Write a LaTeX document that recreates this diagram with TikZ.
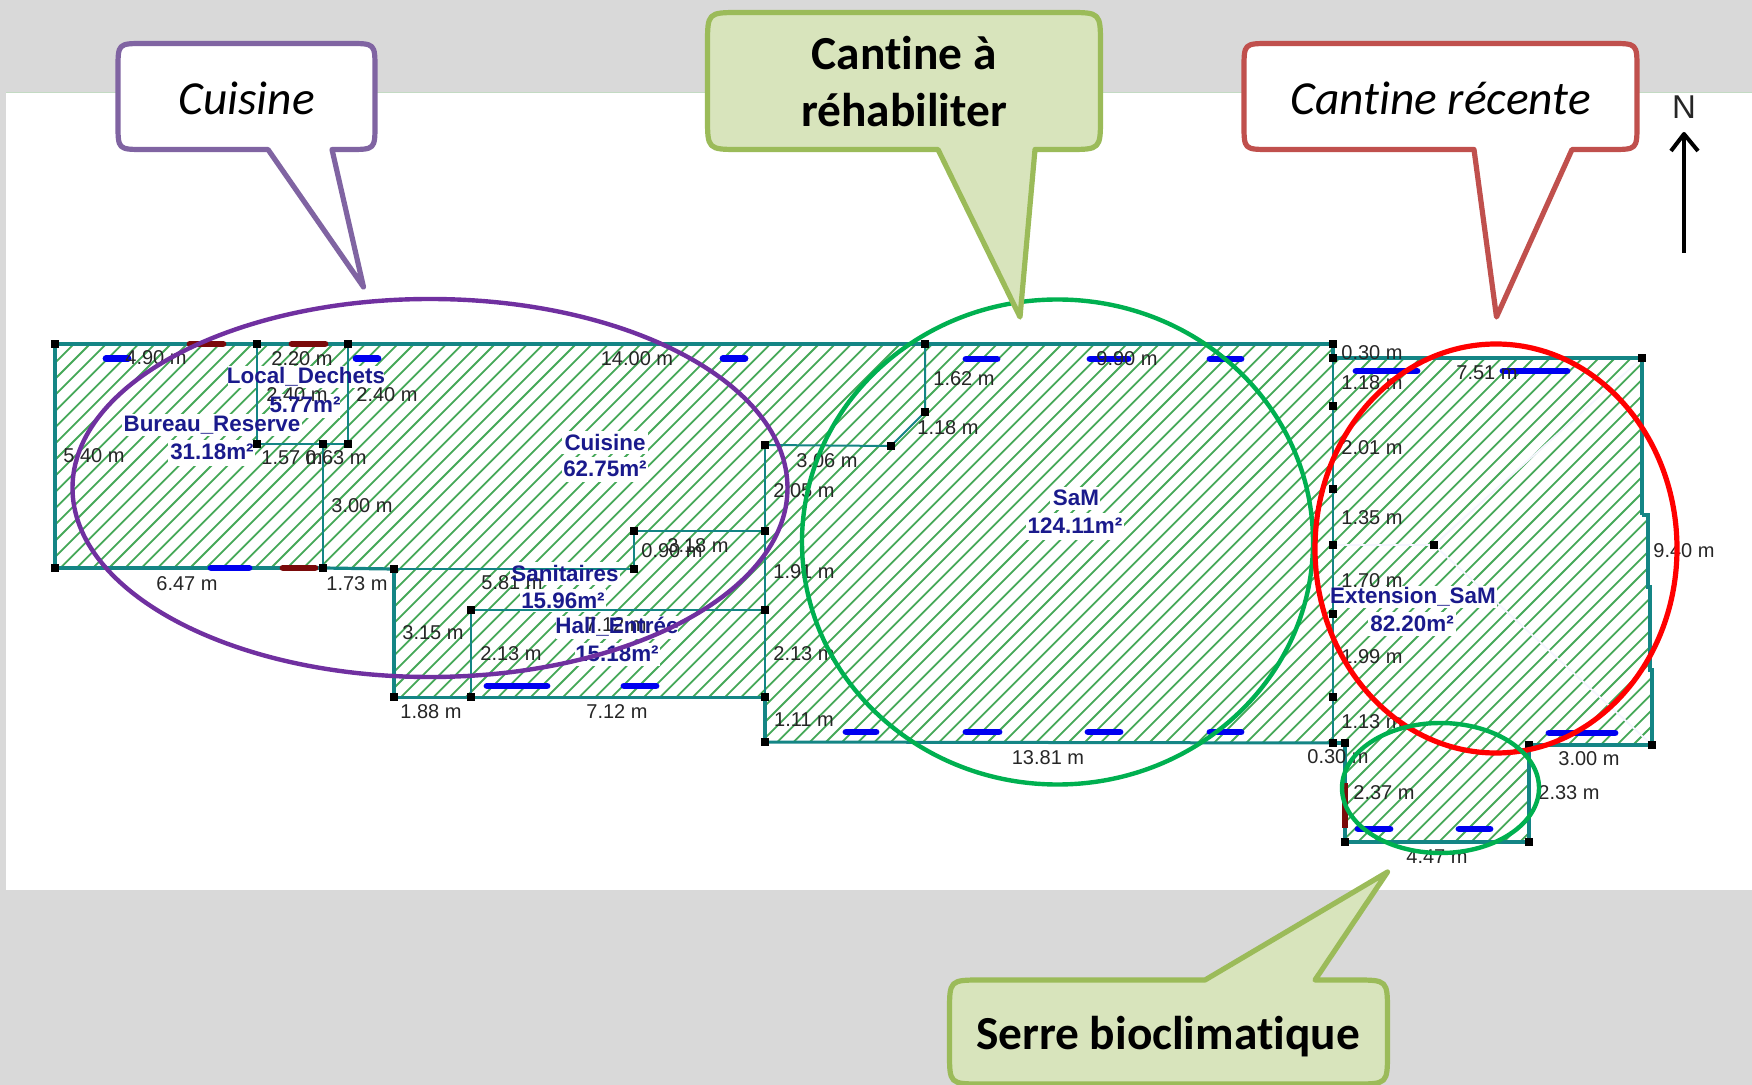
\documentclass[tikz,border=0pt]{standalone}
\usepackage{fontspec}
\setmainfont{Liberation Sans}
\newfontfamily\calib[Ligatures=NoCommon]{Carlito}
\definecolor{bandgray}{HTML}{D9D9D9}
\definecolor{wallteal}{HTML}{148585}
\definecolor{hatchgreen}{HTML}{45A858}
\definecolor{navylabel}{HTML}{1A1A8C}
\definecolor{winblue}{HTML}{0000F0}
\definecolor{doorred}{HTML}{7A0A0A}
\definecolor{cpurple}{HTML}{8064A2}
\definecolor{colive}{HTML}{9BBB59}
\definecolor{colivefill}{HTML}{D8E4BC}
\definecolor{cred}{HTML}{C0504D}
\definecolor{epurple}{HTML}{7030A0}
\definecolor{egreen}{HTML}{00B050}
\tikzset{
  outerwall/.style={draw=wallteal,line width=1.9pt,line join=miter},
  innerwall/.style={draw=wallteal,line width=1pt},
  window/.style={draw=winblue,line width=3.4pt,line cap=round},
  door/.style={draw=doorred,line width=3.4pt,line cap=round},
  vx/.style={fill=black,inner sep=0pt,minimum size=3.9pt},
  dim/.style={font=\fontsize{10}{12}\selectfont,text=black!85,inner sep=0pt},
  area/.style={font=\fontsize{11.2}{13}\selectfont\bfseries,text=navylabel,inner sep=0pt},
  patch/.style={fill=white},
  zone/.style={line width=2.2pt},
  callout/.style={line width=2.6pt,line join=round},
  ctext/.style={font=\fontsize{23.7}{28}\selectfont\calib,text=black,anchor=base,inner sep=0pt},
  cbold/.style={font=\fontsize{23.7}{28}\selectfont\calib\bfseries,text=black,anchor=base,inner sep=0pt}
}
\begin{document}
\begin{tikzpicture}[x=0.5pt,y=-0.5pt]
\path[use as bounding box] (0,0) rectangle (1752,1085);
\fill[bandgray] (0,0) rectangle (1752,1085);
\fill[white] (6,93) rectangle (1752,890);
\draw[color=black!10!green!10!bandgray,line width=0.5pt] (6,92.7) -- (1752,92.7);

% vertices
\coordinate (a) at (55,344); \coordinate (b) at (257,344); \coordinate (c) at (348,344);
\coordinate (d) at (925,344); \coordinate (e) at (1333,344); \coordinate (f) at (1333,358);
\coordinate (g) at (1642,358); \coordinate (h) at (1652,745); \coordinate (ii) at (1529,745);
\coordinate (jj) at (1529,842); \coordinate (k) at (1345,842); \coordinate (l) at (1345,743);
\coordinate (m) at (1333,743); \coordinate (n) at (765,742); \coordinate (o) at (765,697);
\coordinate (p) at (471,697); \coordinate (q) at (394,697); \coordinate (r) at (394,569);
\coordinate (s) at (323,568); \coordinate (t) at (55,568);
\coordinate (u) at (257,444); \coordinate (v) at (323,444); \coordinate (w) at (348,444);
\coordinate (xx) at (634,569); \coordinate (yy) at (634,531); \coordinate (z) at (765,531);
\coordinate (aa) at (765,445); \coordinate (ab) at (765,610); \coordinate (ac) at (471,610);
\coordinate (ad) at (925,412); \coordinate (ae) at (891,446); \coordinate (af) at (1333,406);
\coordinate (ag) at (1333,489); \coordinate (ah) at (1333,545); \coordinate (ai) at (1434,545);
\coordinate (aj) at (1333,614); \coordinate (ak) at (1333,697);
\coordinate (r1) at (1642,515); \coordinate (r2) at (1648,515); \coordinate (r3) at (1648,587);
\coordinate (r4) at (1650,587); \coordinate (r5) at (1650,670); \coordinate (r6) at (1652,670);
\coordinate (ne) at (1642,358);

% hatching
\begin{scope}
\clip (a) -- (e) -- (f) -- (g) -- (r1) -- (r2) -- (r3) -- (r4) -- (r5) -- (r6) -- (h) -- (ii) -- (jj) -- (k) -- (l) -- (m) -- (n) -- (o) -- (q) -- (r) -- (t) -- cycle;
\foreach \c in {0,...,132} {
  \draw[hatchgreen,line width=0.9pt] ({4.4+\c*16.2},300) -- ({4.4+\c*16.2-620},920);
}
\end{scope}

% hatch-free patches under the room labels
\fill[patch] (228,366) rectangle (384,388);
\fill[patch] (270,394) rectangle (340,418);
\fill[patch] (122,414) rectangle (302,436);
\fill[patch] (168,440) rectangle (255,466);
\fill[patch] (562,431) rectangle (648,454);
\fill[patch] (562,457) rectangle (648,482);
\fill[patch] (510,562) rectangle (620,585);
\fill[patch] (520,589) rectangle (606,612);
\fill[patch] (556,616) rectangle (678,639);
\fill[patch] (575,643) rectangle (660,666);
\fill[patch] (1050,487) rectangle (1100,510);
\fill[patch] (1026,513) rectangle (1124,540);
\fill[patch] (1330,586) rectangle (1497,608);
\fill[patch] (1368,612) rectangle (1456,636);

% faint lines in Extension_SaM
\draw[color=red!4!blue!4!white,line width=0.9pt] (ah) -- (ai) -- (ne);
\draw[color=red!4!blue!4!white,line width=0.9pt] (ai) -- (h);

% walls
\draw[outerwall] (b) -- (a) -- (t) -- (s);
\draw[outerwall] (b) -- (e) -- (f);
\draw[outerwall] (f) -- (g) -- (r1);
\draw[outerwall] (r1) -- (r2) -- (r3) -- (r4) -- (r5) -- (r6) -- (h);
\draw[outerwall,line width=1.6pt] (h) -- (ii) -- (jj) -- (k) -- (l) -- (m);
\draw[outerwall,line width=1.6pt] (s) -- (r);
\draw[outerwall] (r) -- (q);
\draw[outerwall,line width=1.5pt] (q) -- (o);
\draw[outerwall] (o) -- (n);
\draw[outerwall,line width=1.5pt] (n) -- (m);
\draw[innerwall] (b) -- (u) -- (w) -- (c);
\draw[innerwall] (v) -- (s);
\draw[innerwall] (r) -- (xx) -- (yy) -- (z);
\draw[innerwall] (aa) -- (o);
\draw[innerwall] (ac) -- (ab);
\draw[innerwall] (ac) -- (p);
\draw[innerwall] (d) -- (ad) -- (ae) -- (aa);
\draw[innerwall] (f) -- (m);

% windows and doors
\draw[window] (106,358.5) -- (128,358.5);
\draw[window] (356,358.5) -- (378,358.5);
\draw[window] (723,358.5) -- (745,358.5);
\draw[window] (966,359) -- (997,359);
\draw[window] (1090,359) -- (1128,359);
\draw[window] (1210,359) -- (1241,359);
\draw[window] (1356,371) -- (1417,371);
\draw[window] (1503,371) -- (1567,371);
\draw[window] (211,568) -- (249,568);
\draw[window] (487,686) -- (547,686);
\draw[window] (624,686) -- (656,686);
\draw[window] (846,732) -- (876,732);
\draw[window] (966,732) -- (999,732);
\draw[window] (1088,732) -- (1120,732);
\draw[window] (1210,732) -- (1241,732);
\draw[window] (1549,733) -- (1615,733);
\draw[window] (1358,829) -- (1390,829);
\draw[window] (1459,829) -- (1490,829);
\draw[door] (190,344) -- (223,344);
\draw[door] (292,344) -- (325,344);
\draw[door] (283,568) -- (315,568);
\draw[door,line cap=butt] (1345,783) -- (1345,828);

% vertex markers
\foreach \w in {a,b,c,d,e,f,g,h,ii,jj,k,l,m,n,o,p,q,r,s,t,u,v,w,xx,yy,z,aa,ab,ac,ad,ae,af,ag,ah,ai,aj,ak} {
  \node[vx] (mk\w) at (\w) {};
}

% dimensions
\node[dim] (d01) at (156,358) {4.90 m};
\node[dim] (d02) at (302,359) {2.20 m};
\node[dim] (d03) at (297,395) {2.40 m};
\node[dim] (d04) at (387,395) {2.40 m};
\node[dim] (d05) at (94,456) {5.40 m};
\node[dim] (d06) at (292,458) {1.57 m};
\node[dim] (d07) at (336,458) {0.63 m};
\node[dim] (d08) at (362,506) {3.00 m};
\node[dim] (d09) at (187,584) {6.47 m};
\node[dim] (d10) at (357,584) {1.73 m};
\node[dim] (d11) at (827,461) {3.06 m};
\node[dim] (d12) at (804,491) {2.05 m};
\node[dim] (d13) at (698,546) {3.18 m};
\node[dim] (d14) at (672,551) {0.90 m};
\node[dim] (d15) at (804,572) {1.91 m};
\node[dim] (d16) at (512,583) {5.81 m};
\node[dim] (d17) at (616,625) {7.12 m};
\node[dim] (d18) at (433,633) {3.15 m};
\node[dim] (d19) at (511,654) {2.13 m};
\node[dim] (d20) at (804,654) {2.13 m};
\node[dim] (d21) at (431,712) {1.88 m};
\node[dim] (d22) at (617,712) {7.12 m};
\node[dim] (d23) at (804,720) {1.11 m};
\node[dim] (d24) at (964,379) {1.62 m};
\node[dim] (d25) at (948,428) {1.18 m};
\node[dim] (d26) at (1127,359) {9.90 m};
\node[dim] (d27) at (637,359) {14.00 m};
\node[dim] (d28) at (1372,353) {0.30 m};
\node[dim] (d29) at (1372,383) {1.18 m};
\node[dim] (d30) at (1487,373) {7.51 m};
\node[dim] (d31) at (1372,448) {2.01 m};
\node[dim] (d32) at (1372,518) {1.35 m};
\node[dim] (d33) at (1684,551) {9.40 m};
\node[dim] (d34) at (1372,581) {1.70 m};
\node[dim] (d35) at (1372,657) {1.99 m};
\node[dim] (d36) at (1372,722) {1.13 m};
\node[dim] (d37) at (1338,757) {0.30 m};
\node[dim] (d38) at (1589,759) {3.00 m};
\node[dim] (d39) at (1384,793) {2.37 m};
\node[dim] (d40) at (1569,793) {2.33 m};
\node[dim] (d41) at (1437,857) {4.47 m};
\node[dim] (d42) at (1048,758) {13.81 m};

% room labels
\node[area] (r01) at (306,377) {Local\_Dechets};
\node[area] (r02) at (305,405) {5.77m²};
\node[area] (r03) at (212,425) {Bureau\_Reserve};
\node[area] (r04) at (212,452) {31.18m²};
\node[area] (r05) at (605,442) {Cuisine};
\node[area] (r06) at (605,469) {62.75m²};
\node[area] (r07) at (565,573) {Sanitaires};
\node[area] (r08) at (563,601) {15.96m²};
\node[area] (r09) at (617,627) {Hall\_Entrée};
\node[area] (r10) at (617,654) {15.18m²};
\node[area] (r11) at (1076,498) {SaM};
\node[area] (r12) at (1075,526) {124.11m²};
\node[area] (r13) at (1413,597) {Extension\_SaM};
\node[area] (r14) at (1412,624) {82.20m²};

% zones
\draw[zone,epurple] (430,488) ellipse [x radius=357.5,y radius=189];
\draw[zone,egreen] (1057.5,542) ellipse [x radius=255.5,y radius=242.5];
\draw[zone,red,line width=2.6pt] (1496,548.5) ellipse [x radius=181,y radius=204.5];
\draw[zone,egreen] (1440.5,788) ellipse [x radius=98.5,y radius=65];

% callouts
\draw[callout,cpurple,fill=white] (144,43.5) -- (349,43.5) .. controls (375,43.5) .. (375,69) -- (375,124) .. controls (375,149.5) .. (349,149.5) -- (332,149.5) -- (363.5,287) -- (268,149.5) -- (144,149.5) .. controls (118,149.5) .. (118,124) -- (118,69) .. controls (118,43.5) .. (144,43.5) -- cycle;
\node[ctext] (t1) at (246.7,114.5) {\itshape Cuisine};

\draw[callout,colive,fill=colivefill] (740,12.5) -- (1068,12.5) .. controls (1100.5,12.5) .. (1100.5,45) -- (1100.5,117) .. controls (1100.5,149.5) .. (1068,149.5) -- (1035,149.5) -- (1020,317) -- (938,149.5) -- (740,149.5) .. controls (707.5,149.5) .. (707.5,117) -- (707.5,45) .. controls (707.5,12.5) .. (740,12.5) -- cycle;
\node[cbold] (t2) at (904,69.5) {Cantine à};
\node[cbold] (t3) at (904,127) {réhabiliter};

\draw[callout,cred,fill=white] (1270,43.5) -- (1611,43.5) .. controls (1637,43.5) .. (1637,69) -- (1637,124) .. controls (1637,149.5) .. (1611,149.5) -- (1572,149.5) -- (1496.5,317) -- (1474,149.5) -- (1270,149.5) .. controls (1244,149.5) .. (1244,124) -- (1244,69) .. controls (1244,43.5) .. (1270,43.5) -- cycle;
\node[ctext] (t4) at (1440.7,114.5) {\itshape Cantine récente};

\draw[callout,colive,fill=colivefill] (982,980) -- (1205,980) -- (1387.5,872) -- (1315,980) -- (1355,980) .. controls (1387.5,980) .. (1387.5,1012) -- (1387.5,1052) .. controls (1387.5,1084) .. (1355,1084) -- (982,1084) .. controls (949.5,1084) .. (949.5,1052) -- (949.5,1012) .. controls (949.5,980) .. (982,980) -- cycle;
\node[cbold] (t5) at (1168,1049) {Serre bioclimatique};

% north arrow
\node[font=\fontsize{16.5}{19}\selectfont,text=black!85,inner sep=0pt] (north) at (1684,107) {N};
\coordinate (ntail) at (1684,253);
\coordinate (ntip) at (1684,134);
\coordinate (nl) at (1671,151);
\coordinate (nr) at (1698,151);
\draw[line width=2pt,black,line join=round] (ntail) -- (ntip);
\draw[line width=2pt,black,line join=round] (nl) -- (ntip) -- (nr);
\end{tikzpicture}
\end{document}
